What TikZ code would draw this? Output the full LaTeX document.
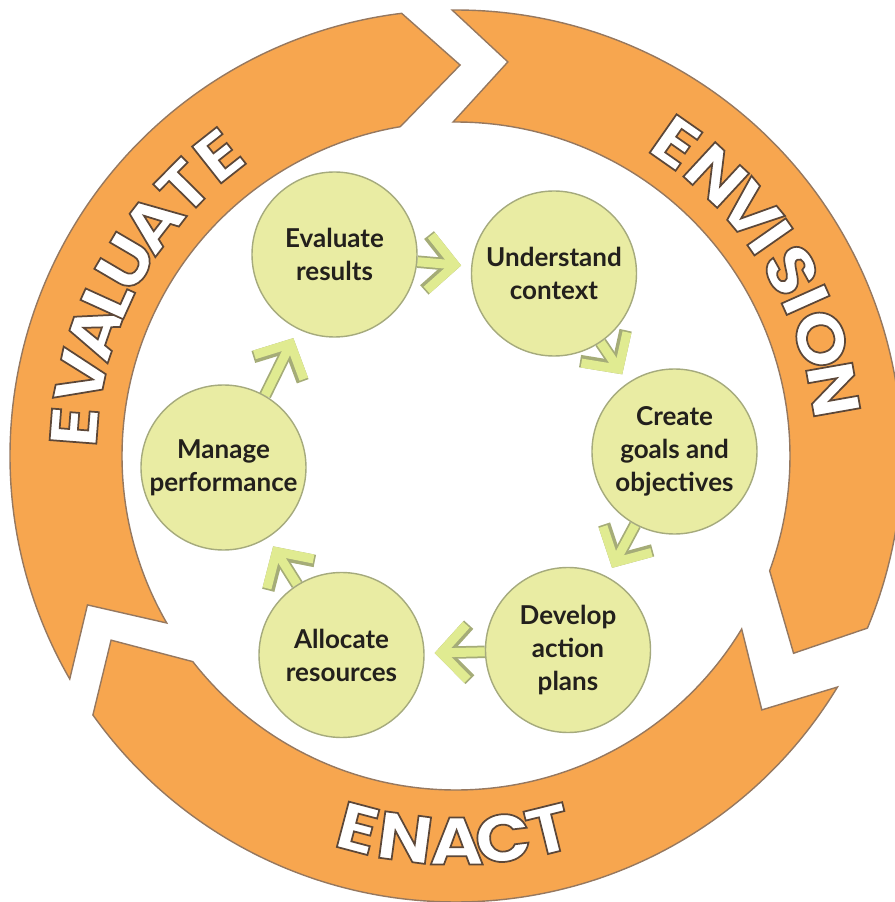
\documentclass[tikz,border=0pt]{standalone}
\usepackage{fontspec}
\setsansfont{Lato}
\newfontfamily\ringfont{Poppins}[FakeStretch=1.1,BoldFeatures={FakeBold=2.6}]
\usetikzlibrary{arrows.meta,backgrounds}

\definecolor{ringfill}{RGB}{247,166,79}
\definecolor{ringline}{RGB}{150,120,95}
\definecolor{stepfill}{RGB}{233,236,163}
\definecolor{stepline}{RGB}{165,170,125}
\definecolor{flowfill}{RGB}{224,235,145}
\definecolor{flowline}{RGB}{165,172,120}
\definecolor{labeltext}{RGB}{35,32,28}

\newcommand\ringLetter[1]{{\special{pdf:code 0.36 0.28 0.22 RG}#1}}

\begin{document}
\begin{tikzpicture}[
                ringarrow/.style={fill=ringfill,draw=ringline,line width=0.8pt,line join=miter},
                stepnode/.style={circle,minimum size=3.3cm,inner sep=0pt,align=center,fill=stepfill,
                    draw=stepline,line width=0.8pt,text=labeltext,
                    font=\sffamily\bfseries\fontsize{14.8}{18.8}\selectfont},
                flowarrow/.style={draw=flowfill,line width=0.18cm,shorten >=0.2cm,
                    -{Straight Barb[sharp,length=0.52cm,width=1.1cm]},
                    preaction={draw=flowline,line width=0.25cm}},
                ringletter/.style={text=white,inner sep=0pt,
                    font=\ringfont\bfseries\fontsize{38}{38}\selectfont}]

                \useasboundingbox (-9.12,-8.92) rectangle (8.78,9.12);

                \draw[ringarrow] (210:8.92) arc[start angle=210,end angle=97,radius=8.92]
                    -- (89.4:7.82) -- (99.6:6.68) arc[start angle=99.6,end angle=210,radius=6.68]
                    -- (202:7.95) -- cycle;
                \draw[ringarrow] (90.5:8.92) arc[start angle=90.5,end angle=-22.7,radius=8.92]
                    -- (-30.3:7.82) -- (-20.1:6.68) arc[start angle=-20.1,end angle=90.5,radius=6.68]
                    -- (82.5:7.95) -- cycle;
                \draw[ringarrow] (-31.2:8.92) arc[start angle=-31.2,end angle=-144.5,radius=8.92]
                    -- (-151.9:7.82) -- (-142:6.68) arc[start angle=-142,end angle=-31.2,radius=6.68]
                    -- (-39.7:7.95) -- cycle;

                \node[ringletter,rotate=85.6] (ev1) at (175.6:7.66) {\ringLetter{E}};
                \node[ringletter,rotate=78.1] (ev2) at (168.1:7.66) {\ringLetter{V}};
                \node[ringletter,rotate=71.0] (ev3) at (161.0:7.66) {\ringLetter{A}};
                \node[ringletter,rotate=65.6] (ev4) at (155.6:7.66) {\ringLetter{L}};
                \node[ringletter,rotate=59.6] (ev5) at (149.6:7.66) {\ringLetter{U}};
                \node[ringletter,rotate=52.4] (ev6) at (142.4:7.66) {\ringLetter{A}};
                \node[ringletter,rotate=45.3] (ev7) at (135.3:7.66) {\ringLetter{T}};
                \node[ringletter,rotate=38.3] (ev8) at (128.3:7.66) {\ringLetter{E}};

                \node[ringletter,rotate=-35.0] (en1) at (55.0:7.66) {\ringLetter{E}};
                \node[ringletter,rotate=-42.8] (en2) at (47.2:7.66) {\ringLetter{N}};
                \node[ringletter,rotate=-50.2] (en3) at (39.8:7.66) {\ringLetter{V}};
                \node[ringletter,rotate=-55.1] (en4) at (34.9:7.66) {\ringLetter{I}};
                \node[ringletter,rotate=-61.0] (en5) at (29.0:7.66) {\ringLetter{S}};
                \node[ringletter,rotate=-65.9] (en6) at (24.1:7.66) {\ringLetter{I}};
                \node[ringletter,rotate=-72.2] (en7) at (17.8:7.66) {\ringLetter{O}};
                \node[ringletter,rotate=-80.0] (en8) at (10.0:7.66) {\ringLetter{N}};

                \node[ringletter,rotate=-14.8] (ea1) at (-104.8:7.7) {\ringLetter{E}};
                \node[ringletter,rotate=-7.6] (ea2) at (-97.6:7.7) {\ringLetter{N}};
                \node[ringletter,rotate=0.1] (ea3) at (-89.9:7.7) {\ringLetter{A}};
                \node[ringletter,rotate=7.0] (ea4) at (-83.0:7.7) {\ringLetter{C}};
                \node[ringletter,rotate=13.9] (ea5) at (-76.1:7.7) {\ringLetter{T}};

                \node[stepnode] (evaluate) at (-2.43,4.03) {Evaluate\\results};
                \node[stepnode] (understand) at (1.96,3.65) {Understand\\context};
                \node[stepnode] (create) at (4.37,0.09) {Create\\goals and\\objectives};
                \node[stepnode] (develop) at (2.24,-3.88) {Develop\\action\\plans};
                \node[stepnode] (allocate) at (-2.29,-3.98) {Allocate\\resources};
                \node[stepnode] (manage) at (-4.65,-0.23) {Manage\\performance};

                \begin{scope}[on background layer]
                \draw[flowarrow] (evaluate) -- (understand);
                \draw[flowarrow] (understand) -- (create);
                \draw[flowarrow] (create) -- (develop);
                \draw[flowarrow] (develop) -- (allocate);
                \draw[flowarrow] (allocate) -- (manage);
                \draw[flowarrow] (manage.60) -- (evaluate);
                \end{scope}

\end{tikzpicture}
\end{document}
